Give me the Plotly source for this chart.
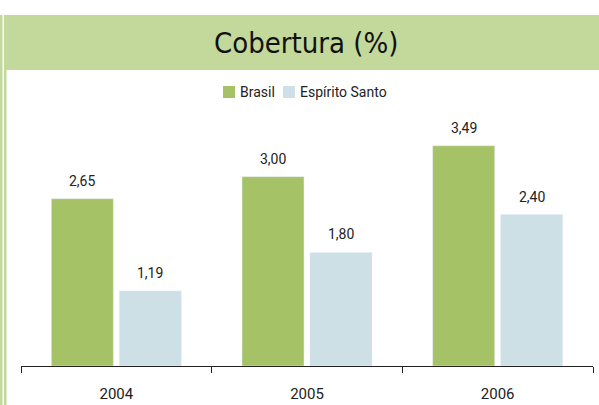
import plotly.graph_objects as go

# Dados de cobertura (%)
anos = ["2004", "2005", "2006"]
brasil = [2.65, 3.00, 3.49]
espirito_santo = [1.19, 1.80, 2.40]
series = ["Brasil", "Espírito Santo"]

VERDE = "#a5c266"
AZUL = "#cce0e6"
FAIXA = "#c3d89b"
FONTE = "Roboto, sans-serif"
FONTE_TITULO = '"DejaVu Sans Condensed", "Liberation Sans Narrow", Roboto, sans-serif'

W, H = 599, 405
ML, MR, MT, MB = 21, 6, 110, 39
PW = W - ML - MR
PH = H - MT - MB


def px_x(x):
    return (x - ML) / PW


def px_y(y):
    return (H - MB - y) / PH


fig = go.Figure()
for nome, valores, cor in [(series[0], brasil, VERDE), (series[1], espirito_santo, AZUL)]:
    fig.add_bar(
        name=nome, x=anos, y=valores, marker_color=cor, showlegend=False,
    )

shapes = [
    # faixa do título
    dict(type="rect", xref="paper", yref="paper",
         x0=px_x(4), x1=px_x(W), y0=px_y(70), y1=px_y(15),
         fillcolor=FAIXA, line_width=0, layer="below"),
    # bordas verticais à esquerda
    dict(type="rect", xref="paper", yref="paper",
         x0=px_x(0), x1=px_x(2.5), y0=px_y(H), y1=px_y(15),
         fillcolor=FAIXA, line_width=0, layer="below"),
    dict(type="rect", xref="paper", yref="paper",
         x0=px_x(4), x1=px_x(6.5), y0=px_y(H), y1=px_y(70),
         fillcolor=FAIXA, line_width=0, layer="below"),
]

annotations = [dict(
    text="Cobertura (%)", xref="paper", yref="paper",
    x=px_x(306), y=px_y(43), xanchor="center", yanchor="middle",
    showarrow=False, font=dict(family=FONTE_TITULO, size=29, color="#111"),
)]

# rótulos de valor acima de cada barra (posição pelo índice da categoria)
for valores, deslocamento in [(brasil, -34), (espirito_santo, 34)]:
    for i, v in enumerate(valores):
        annotations.append(dict(
            text=f"{v:.2f}".replace(".", ","), x=i, y=v, xref="x", yref="y",
            xshift=deslocamento, yshift=8, yanchor="bottom", showarrow=False,
            font=dict(family=FONTE, size=14, color="#222"),
        ))

# legenda desenhada à mão: quadrado + texto
legenda = [(series[0], VERDE, 223), (series[1], AZUL, 283)]
for nome, cor, x0 in legenda:
    shapes.append(dict(type="rect", xref="paper", yref="paper",
                       x0=px_x(x0), x1=px_x(x0 + 12), y0=px_y(98), y1=px_y(86),
                       fillcolor=cor, line_width=0))
    annotations.append(dict(
        text=nome, xref="paper", yref="paper", x=px_x(x0 + 15), y=px_y(92),
        xanchor="left", yanchor="middle", showarrow=False,
        font=dict(family=FONTE, size=14, color="#222"),
    ))

fig.update_layout(
    width=W, height=H,
    margin=dict(l=ML, r=MR, t=MT, b=MB),
    paper_bgcolor="white", plot_bgcolor="white",
    separators=",.",
    barmode="group", bargap=0.287, bargroupgap=0.088,
    font=dict(family=FONTE, size=14, color="#222"),
    shapes=shapes,
    annotations=annotations,
    showlegend=False,
    xaxis=dict(
        type="category", range=[-0.5, len(anos) - 0.5], automargin=False,
        showline=True, linecolor="#222", linewidth=1,
        ticks="outside", tickson="boundaries", ticklen=6, tickcolor="#222",
        showgrid=False, tickfont=dict(size=15, color="#222"),
        ticklabelstandoff=14,
    ),
    yaxis=dict(visible=False, range=[0, PH / 63.1], showgrid=False),
)

fig.write_html("out.html")
